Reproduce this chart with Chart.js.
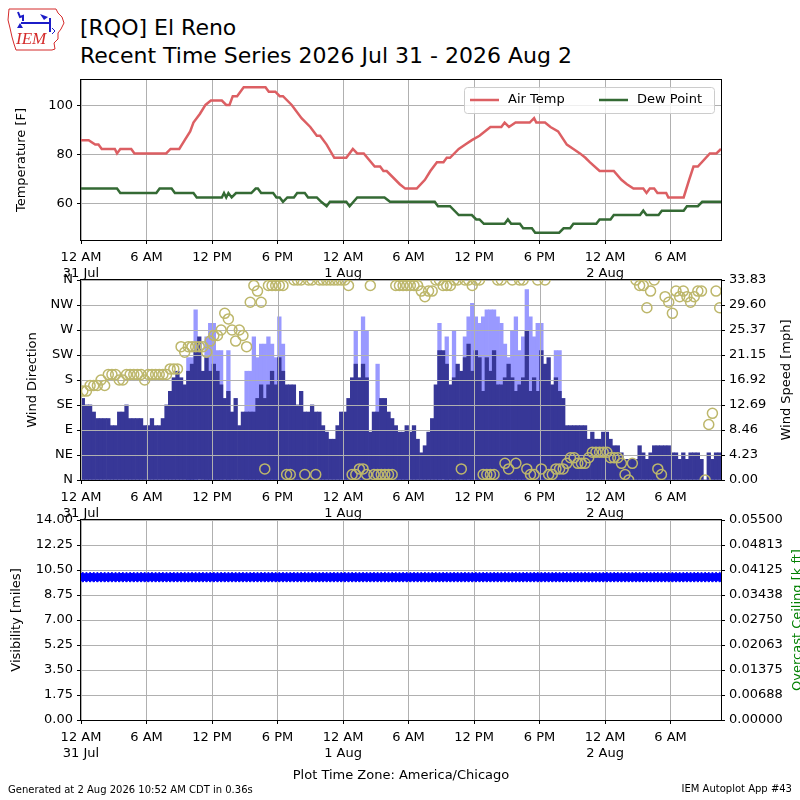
<!DOCTYPE html>
<html>
<head>
<meta charset="utf-8">
<script src="https://cdn.jsdelivr.net/npm/chart.js@4.4.1/dist/chart.umd.min.js"></script>
<style>
html, body { margin: 0; padding: 0; background: #fff; }
#wrap { position: relative; width: 800px; height: 800px; overflow: hidden; font-family: "DejaVu Sans"; }
#wrap canvas.panel { position: absolute; left: 0; top: 0; }
.txt { position: absolute; white-space: nowrap; color: #000; }
</style>
</head>
<body>
<div id="wrap">
  <canvas id="logo" width="70" height="56" style="position:absolute;left:4px;top:4px"></canvas>
  <div class="txt" style="left:80px;top:16px;font-size:22px;line-height:24px">[RQO] El Reno</div>
  <div class="txt" style="left:80px;top:44px;font-size:22px;line-height:24px">Recent Time Series 2026 Jul 31 - 2026 Aug 2</div>
  <canvas id="cTemp" class="panel" width="800" height="800"></canvas>
  <canvas id="cWind" class="panel" width="800" height="800"></canvas>
  <canvas id="cVis" class="panel" width="800" height="800"></canvas>
  <div class="txt" style="left:8px;top:784px;font-size:10px;line-height:12px">Generated at 2 Aug 2026 10:52 AM CDT in 0.36s</div>
  <div class="txt" style="right:8px;top:783px;font-size:10px;line-height:12px">IEM Autoplot App #43</div>
</div>
<script>
// hours since 31 Jul 00:00 (America/Chicago)
const xTickHours = [0, 6, 12, 18, 24, 30, 36, 42, 48, 54];
const xTickLabels = [["12 AM", "31 Jul"], "6 AM", "12 PM", "6 PM", ["12 AM", "1 Aug"], "6 AM", "12 PM", "6 PM", ["12 AM", "2 Aug"], "6 AM"];
const X_MAX = 58.62;

// temperature [F]
const tempHours = [0, 0.7, 1.3, 1.6, 1.9, 3.1, 3.3, 3.6, 4.6, 4.9, 7.8, 8.2, 9.0, 9.5, 10.0, 10.3, 10.9, 11.4, 11.9, 12.9,
  13.3, 13.6, 13.9, 14.3, 14.9, 16.9, 17.2, 17.8, 18.2, 18.5, 19.3, 20.2, 21.0, 21.6, 21.9, 22.5, 23.2, 24.3, 24.9, 25.3,
  25.9, 26.9, 27.4, 27.7, 28.0, 29.2, 29.7, 30.75, 31.5, 32.0, 32.6, 33.2, 33.5, 33.8, 34.6, 35.2, 35.8, 36.5, 37.5, 38.5,
  38.8, 39.2, 39.8, 41.1, 41.5, 41.7, 42.5, 43.0, 43.7, 44.5, 45.1, 45.7, 46.2, 46.6, 47.5, 48.8, 49.5, 50.0, 50.6, 51.5,
  51.8, 52.1, 52.5, 52.8, 53.6, 53.8, 55.2, 55.7, 56.1, 56.5, 57.6, 58.2, 58.62];
const tempF = [86, 86, 84.2, 84.2, 82.4, 82.4, 80.6, 82.4, 82.4, 80.6, 80.6, 82.4, 82.4, 86, 89.6, 93.2, 96.8, 100.4, 102.2, 102.2,
  100.4, 100.4, 104, 104, 107.6, 107.6, 105.8, 105.8, 104, 104, 100.4, 95, 91.4, 87.8, 87.8, 84.2, 78.8, 78.8, 82.4, 80.6,
  80.6, 75.2, 75.2, 73.4, 73.4, 68, 66.2, 66.2, 69.8, 73.4, 77, 77, 78.8, 78.8, 82.4, 84.2, 86, 87.8, 91.4, 91.4,
  93.2, 91.4, 93.2, 93.2, 95, 93.2, 93.2, 91.4, 89.6, 84.2, 82.4, 80.6, 78.8, 77, 73.4, 73.4, 69.8, 68, 66.2, 66.2,
  64.4, 66.2, 66.2, 64.4, 64.4, 62.6, 62.6, 69.8, 75.2, 75.2, 80.6, 80.6, 82.4];
const dewHours = [0, 3.3, 3.6, 6.9, 7.2, 8.3, 8.6, 10.3, 10.6, 12.9, 13.1, 13.3, 13.5, 13.8, 14.2, 15.6, 16.0, 16.2, 16.5, 17.6,
  17.9, 18.2, 18.5, 18.9, 19.5, 19.8, 20.5, 20.8, 21.6, 22.0, 22.5, 22.8, 24.3, 24.6, 25.3, 27.8, 28.3, 32.4, 32.7, 33.8,
  34.6, 35.8, 36.2, 36.5, 36.9, 38.8, 39.1, 39.4, 40.2, 40.5, 41.3, 41.6, 43.8, 44.2, 44.8, 45.1, 47.2, 47.5, 48.5, 48.8,
  51.2, 51.5, 51.8, 52.9, 53.2, 55.2, 55.5, 56.5, 56.9, 58.62];
const dewF = [66.2, 66.2, 64.4, 64.4, 66.2, 66.2, 64.4, 64.4, 62.6, 62.6, 64.4, 62.6, 64.4, 62.6, 64.4, 64.4, 66.2, 66.2, 64.4, 64.4,
  62.6, 62.6, 60.8, 62.6, 62.6, 64.4, 64.4, 62.6, 62.6, 60.8, 59, 60.8, 60.8, 59, 62.6, 62.6, 60.8, 60.8, 59, 59,
  55.4, 55.4, 53.6, 53.6, 51.8, 51.8, 53.6, 51.8, 51.8, 50, 50, 48.2, 48.2, 50, 50, 51.8, 51.8, 53.6, 53.6, 55.4,
  55.4, 57.2, 55.4, 55.4, 57.2, 57.2, 59, 59, 60.8, 60.8];
const tempTicks = [60, 80, 100];

// wind, one value per 20 minute observation starting 31 Jul 00:00
const windMph = [
  13.8, 12.7, 12.7, 11.5, 10.4, 10.4, 10.4, 10.4, 9.2, 9.2, 11.5, 11.5, 12.7, 10.4, 10.4, 10.4, 10.4, 9.2, 9.2, 10.4,
  9.2, 9.2, 10.4, 12.7, 15.0, 17.3, 18.4, 17.3, 16.1, 18.4, 19.6, 21.9, 24.2, 18.4, 20.7, 18.4, 19.6, 18.4, 16.1, 13.8,
  15.0, 11.5, 13.8, 9.2, 11.5, 11.5, 11.5, 11.5, 13.8, 16.1, 13.8, 16.1, 18.4, 16.1, 20.7, 18.4, 16.1, 16.1, 16.1, 12.7,
  15.0, 11.5, 11.5, 12.7, 11.5, 11.5, 9.2, 8.1, 6.9, 6.9, 9.2, 11.5, 11.5, 13.8, 17.3, 19.6, 17.3, 19.6, 17.3, 8.1,
  11.5, 11.5, 13.8, 13.8, 11.5, 10.4, 9.2, 8.1, 8.1, 9.2, 8.1, 9.2, 6.9, 4.6, 5.8, 8.1, 10.4, 16.1, 21.9, 21.9,
  19.6, 16.1, 17.3, 19.6, 18.4, 20.7, 23.0, 18.4, 21.9, 20.7, 15.0, 20.7, 18.4, 21.9, 16.1, 16.1, 17.3, 19.6, 17.3, 15.0,
  16.1, 17.3, 25.3, 15.0, 17.3, 15.0, 21.9, 19.6, 20.7, 16.1, 17.3, 15.0, 13.8, 9.2, 9.2, 9.2, 9.2, 9.2, 9.2, 6.9,
  8.1, 6.9, 6.9, 8.1, 8.1, 6.9, 5.8, 5.8, 4.6, 3.5, 3.5, 3.5, 3.5, 5.8, 4.6, 3.5, 4.6, 5.8, 5.8, 5.8,
  5.8, 5.8, 4.6, 4.6, 3.5, 4.6, 3.5, 4.6, 4.6, 4.6, 3.5, 0, 4.6, 3.5, 4.6, 4.6];
const gustMph = [
  null, null, null, null, null, null, null, null, null, null, null, null, null, null, null, null, null, null, null, null,
  null, null, null, null, null, null, null, null, null, 20.7, 20.7, 28.8, null, null, 24.2, 26.5, 26.5, 21.9, 21.9, null,
  21.9, null, null, null, null, 18.4, 18.4, 24.2, 20.7, 23.0, 23.0, 24.2, 23.0, 20.7, 27.6, 23.0, null, null, null, null,
  null, null, null, null, null, null, null, null, null, null, null, null, null, null, null, 25.3, null, 27.6, 25.3, null,
  null, 19.6, null, null, null, null, null, null, null, null, null, null, null, null, null, null, null, null, 26.5, null,
  24.2, null, 25.3, null, null, 24.2, 27.6, 29.9, 27.6, 26.5, 27.6, 28.8, 28.8, 28.8, 27.6, 26.5, 23.0, 20.7, 25.3, 27.6,
  21.9, 24.2, 32.2, 27.6, 24.2, 26.5, 26.5, null, null, null, 21.9, 21.9, null, null, null, null, null, null, null, null,
  null, null, null, null, null, null, null, null, null, null, null, null, null, null, null, null, null, null, null, null,
  null, null, null, null, null, null, null, null, null, null, null, null, null, null, null, null];
const windDir = [
  160, 160, 170, 170, 170, 180, 170, 190, 190, 190, 180, 180, 190, 190, 190, 190, 190, 180, 190, 190,
  190, 190, 190, 190, 200, 200, 200, 240, 230, 240, 240, 240, 240, 240, 230, 250, 260, 260, 270, 300,
  290, 270, 250, 270, 260, 240, 320, 350, 340, 320, 20, 350, 350, 350, 350, 350, 10, 10, 360, 360,
  360, 10, 360, 360, 10, 360, 360, 360, 360, 360, 360, 360, 360, 350, 10, 10, 20, 20, 10, 350,
  10, 10, 10, 10, 10, 10, 350, 350, 350, 350, 350, 350, 350, 340, 330, 340, 340, 360, 360, 350,
  350, 350, 360, 360, 20, 360, 360, 350, 360, 360, 10, 10, 10, 10, 360, 360, 30, 20, 360, 30,
  360, 360, 20, 10, 10, 360, 20, 360, 10, 10, 20, 20, 20, 30, 40, 40, 30, 30, 30, 40,
  50, 50, 50, 50, 50, 40, 40, 40, 30, 10, 0, 30, 360, 350, 350, 310, 340, 360, 20, 10,
  330, 320, 300, 340, 330, 340, 330, 320, 330, 340, 340, 0, 100, 120, 340, 310];
const dirTicks = [0, 45, 90, 135, 180, 225, 270, 315, 360];
const dirLabels = ["N", "NE", "E", "SE", "S", "SW", "W", "NW", "N"];
const speedTicks = [0, 4.229, 8.458, 12.687, 16.916, 21.145, 25.374, 29.603, 33.832];
const speedLabels = ["0.00", "4.23", "8.46", "12.69", "16.92", "21.15", "25.37", "29.60", "33.83"];

// visibility [miles], same observation times
const visMiles = [
  10, 10, 10, 10, 10, 10, 10, 10, 10, 10, 10, 10, 10, 10, 10, 10, 10, 10, 10, 10, 10, 10,
  10, 10, 10, 10, 10, 10, 10, 10, 10, 10, 10, 10, 10, 10, 10, 10, 10, 10, 10, 10, 10, 10,
  10, 10, 10, 10, 10, 10, 10, 10, 10, 10, 10, 10, 10, 10, 10, 10, 10, 10, 10, 10, 10, 10,
  10, 10, 10, 10, 10, 10, 10, 10, 10, 10, 10, 10, 10, 10, 10, 10, 10, 10, 10, 10, 10, 10,
  10, 10, 10, 10, 10, 10, 10, 10, 10, 10, 10, 10, 10, 10, 10, 10, 10, 10, 10, 10, 10, 10,
  10, 10, 10, 10, 10, 10, 10, 10, 10, 10, 10, 10, 10, 10, 10, 10, 10, 10, 10, 10, 10, 10,
  10, 10, 10, 10, 10, 10, 10, 10, 10, 10, 10, 10, 10, 10, 10, 10, 10, 10, 10, 10, 10, 10,
  10, 10, 10, 10, 10, 10, 10, 10, 10, 10, 10, 10, 10, 10, 10, 10, 10, 10, 10, 10, 10, 10];
const visTicks = [0, 1.75, 3.5, 5.25, 7, 8.75, 10.5, 12.25, 14];
const visLabels = ["0.00", "1.75", "3.50", "5.25", "7.00", "8.75", "10.50", "12.25", "14.00"];
const ceilTicks = [0, 0.006875, 0.01375, 0.020625, 0.0275, 0.034375, 0.04125, 0.048125, 0.055];
const ceilLabels = ["0.00000", "0.00688", "0.01375", "0.02063", "0.02750", "0.03438", "0.04125", "0.04813", "0.05500"];

const obsHour = windMph.map((_, i) => (i + 0.5) / 3);

const GRID = "#b0b0b0";
const RED = "#dc5f63";
const GREEN = "#346a34";

Chart.defaults.font.family = "'DejaVu Sans'";
Chart.defaults.font.size = 13;
Chart.defaults.color = "#000";
Chart.defaults.animation = false;

function timeAxis(height, onArea, title) {
  const axis = {
    type: "linear", min: 0, max: X_MAX, offset: false,
    afterBuildTicks: s => { s.ticks = xTickHours.map(v => ({ value: v })); },
    afterFit: s => { s.height = height; },
    grid: { drawOnChartArea: onArea, offset: false, color: GRID, tickColor: "#000", tickLength: 4 },
    border: { display: false },
    ticks: { autoSkip: false, maxRotation: 0, padding: 6, callback: (v, i) => xTickLabels[i] }
  };
  if (title) axis.title = { display: true, text: title, padding: { top: 0, bottom: 1 } };
  return axis;
}

function valueAxis(side, min, max, ticks, labels, onArea, title, titlePad) {
  const axis = {
    type: "linear", position: side, min: min, max: max,
    afterBuildTicks: s => { s.ticks = ticks.map(v => ({ value: v })); },
    afterFit: s => { s.width = side === "left" ? 81 : 79; },
    grid: { drawOnChartArea: onArea, color: GRID, tickColor: "#000", tickLength: 4 },
    border: { display: false },
    ticks: { autoSkip: false, padding: 4, callback: (v, i) => labels ? labels[i] : v }
  };
  if (title) axis.title = { display: true, text: title, padding: { top: titlePad, bottom: 0 } };
  return axis;
}

const framePlugin = {
  id: "frame",
  afterDraw(chart) {
    const { ctx, chartArea: a } = chart;
    ctx.save();
    ctx.strokeStyle = "#000";
    ctx.lineWidth = 1;
    ctx.strokeRect(Math.round(a.left) - 0.5, Math.round(a.top) - 0.5,
      Math.round(a.right - a.left) + 1, Math.round(a.bottom - a.top) + 1);
    ctx.restore();
  }
};

function sideTitle(text, color, x) {
  return {
    id: "sideTitle",
    afterDraw(chart) {
      const { ctx, chartArea: a } = chart;
      ctx.save();
      ctx.translate(x, (a.top + a.bottom) / 2);
      ctx.rotate(-Math.PI / 2);
      ctx.font = "13px 'DejaVu Sans'";
      ctx.fillStyle = color;
      ctx.textAlign = "center";
      ctx.textBaseline = "middle";
      ctx.fillText(text, 0, 0);
      ctx.restore();
    }
  };
}

const legendPlugin = {
  id: "tempLegend",
  afterDraw(chart) {
    const { ctx, chartArea: a } = chart;
    const w = 250, h = 26;
    const x0 = a.right - 7 - w, y0 = a.top + 7;
    ctx.save();
    ctx.beginPath();
    ctx.roundRect(x0 + 0.5, y0 + 0.5, w, h, 3);
    ctx.fillStyle = "rgba(255,255,255,0.8)";
    ctx.fill();
    ctx.strokeStyle = "#cccccc";
    ctx.lineWidth = 1;
    ctx.stroke();
    ctx.font = "13px 'DejaVu Sans'";
    ctx.textBaseline = "middle";
    ctx.fillStyle = "#000";
    const cy = y0 + h / 2;
    const slots = [6, 135];
    chart.data.datasets.forEach((ds, i) => {
      const sx = x0 + slots[i];
      ctx.beginPath();
      ctx.moveTo(sx, cy);
      ctx.lineTo(sx + 29, cy);
      ctx.strokeStyle = ds.borderColor;
      ctx.lineWidth = 2.5;
      ctx.stroke();
      ctx.fillText(ds.label, sx + 38, cy);
    });
    ctx.restore();
  }
};

const gridOverBars = {
  id: "gridOverBars",
  afterDatasetDraw(chart, args) {
    if (args.index !== 1) return;
    const { ctx, chartArea: a, scales } = chart;
    ctx.save();
    ctx.strokeStyle = GRID;
    ctx.lineWidth = 1;
    ctx.beginPath();
    scales.x.ticks.forEach(t => {
      const px = Math.round(scales.x.getPixelForValue(t.value)) + 0.5;
      ctx.moveTo(px, a.top); ctx.lineTo(px, a.bottom);
    });
    scales.yDir.ticks.forEach(t => {
      const py = Math.round(scales.yDir.getPixelForValue(t.value)) + 0.5;
      ctx.moveTo(a.left, py); ctx.lineTo(a.right, py);
    });
    ctx.stroke();
    ctx.restore();
  }
};

new Chart(document.getElementById("cTemp"), {
  type: "line",
  data: {
    datasets: [
      { label: "Air Temp", data: tempHours.map((h, i) => ({ x: h, y: tempF[i] })),
        borderColor: RED, borderWidth: 2.5, pointRadius: 0, tension: 0 },
      { label: "Dew Point", data: dewHours.map((h, i) => ({ x: h, y: dewF[i] })),
        borderColor: GREEN, borderWidth: 2.5, pointRadius: 0, tension: 0 }
    ]
  },
  options: {
    responsive: false,
    layout: { padding: { top: 80, bottom: 520, left: 0, right: 79 } },
    plugins: { legend: { display: false }, tooltip: { enabled: false } },
    scales: {
      x: timeAxis(40, true),
      y: valueAxis("left", 45.2, 110.6, tempTicks, null, true, "Temperature [F]", 14)
    }
  },
  plugins: [framePlugin, legendPlugin]
});

new Chart(document.getElementById("cWind"), {
  type: "bar",
  data: {
    datasets: [
      { type: "line", label: "Wind Direction", yAxisID: "yDir", showLine: false, order: 0, clip: 0,
        data: obsHour.map((h, i) => ({ x: h, y: windDir[i] })),
        pointRadius: 5, pointBorderWidth: 1.5, pointBorderColor: "#bdb76b", pointBackgroundColor: "rgba(0,0,0,0)" },
      { label: "Wind Speed", yAxisID: "ySpd", order: 1, grouped: false,
        data: obsHour.map((h, i) => ({ x: h, y: windMph[i] })),
        backgroundColor: "#373797", barPercentage: 1, categoryPercentage: 1 },
      { label: "Wind Gust", yAxisID: "ySpd", order: 2, grouped: false,
        data: obsHour.map((h, i) => ({ x: h, y: gustMph[i] })),
        backgroundColor: "#9999ff", barPercentage: 1, categoryPercentage: 1 }
    ]
  },
  options: {
    responsive: false,
    layout: { padding: { top: 280, bottom: 280, left: 0, right: 0 } },
    plugins: { legend: { display: false }, tooltip: { enabled: false } },
    scales: {
      x: timeAxis(40, false),
      yDir: valueAxis("left", 0, 360, dirTicks, dirLabels, false, "Wind Direction", 25),
      ySpd: valueAxis("right", 0, 33.832, speedTicks, speedLabels, false)
    }
  },
  plugins: [gridOverBars, framePlugin, sideTitle("Wind Speed [mph]", "#000", 787)]
});

new Chart(document.getElementById("cVis"), {
  type: "scatter",
  data: {
    datasets: [
      { label: "Visibility", yAxisID: "yVis", data: obsHour.map((h, i) => ({ x: h, y: visMiles[i] })),
        pointStyle: "rectRot", pointRadius: 5, pointBorderWidth: 1, pointBorderColor: "#0000ff", pointBackgroundColor: "#0000ff" }
    ]
  },
  options: {
    responsive: false,
    layout: { padding: { top: 520, bottom: 16, left: 0, right: 0 } },
    plugins: { legend: { display: false }, tooltip: { enabled: false } },
    scales: {
      x: timeAxis(64, true, "Plot Time Zone: America/Chicago"),
      yVis: valueAxis("left", 0, 14, visTicks, visLabels, true, "Visibility [miles]", 9),
      yCeil: valueAxis("right", 0, 0.055, ceilTicks, ceilLabels, false)
    }
  },
  plugins: [framePlugin, sideTitle("Overcast Ceiling [k ft]", "#008000", 798)]
});

// IEM logo
(function drawLogo() {
  const g = document.getElementById("logo").getContext("2d");
  g.strokeStyle = "#d42a2a";
  g.lineWidth = 1;
  g.beginPath();
  g.moveTo(5, 5); g.lineTo(52, 5); g.lineTo(54, 9); g.lineTo(58, 13); g.lineTo(60, 19);
  g.lineTo(57, 25); g.lineTo(54, 29); g.lineTo(54, 35); g.lineTo(50, 39); g.lineTo(51, 45);
  g.lineTo(48, 46); g.lineTo(12, 46); g.lineTo(10, 40); g.lineTo(8, 33); g.lineTo(6, 24);
  g.lineTo(4, 16); g.closePath();
  g.stroke();
  g.strokeStyle = "#1c1cc8";
  g.fillStyle = "#1c1cc8";
  g.lineWidth = 2;
  g.beginPath();
  g.moveTo(17, 19); g.lineTo(46, 19);
  g.moveTo(14, 8); g.lineTo(16, 13); g.lineTo(19, 12); g.lineTo(19, 17);
  g.moveTo(46, 14); g.lineTo(46, 28);
  g.stroke();
  g.beginPath();
  g.moveTo(36, 10); g.lineTo(44, 13); g.lineTo(40, 16); g.closePath(); g.fill();
  g.beginPath();
  g.moveTo(13, 24); g.lineTo(16, 19); g.lineTo(19, 24); g.closePath(); g.fill();
  g.lineWidth = 1;
  g.beginPath();
  g.moveTo(48, 24); g.lineTo(51, 27); g.lineTo(48, 30);
  g.stroke();
  g.font = "italic 17px 'Liberation Serif'";
  g.fillStyle = "#d42a2a";
  g.fillText("IEM", 12, 40);
})();
</script>
</body>
</html>
